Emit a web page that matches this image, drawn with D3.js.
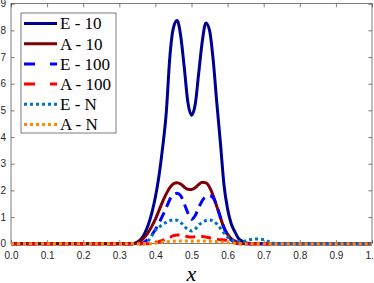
<!DOCTYPE html>
<html>
<head>
<meta charset="utf-8">
<script src="https://cdn.jsdelivr.net/npm/d3@7"></script>
<style>
  body { margin: 0; background: #fff; }
  svg { display: block; }
</style>
</head>
<body>
<svg id="chart" width="374" height="283"></svg>
<script>
// x positions shared by every series
const xs = [0, 0.30, 0.33, 0.34, 0.35, 0.36, 0.37, 0.38, 0.39, 0.40, 0.41, 0.42, 0.43, 0.44, 0.45,
  0.46, 0.47, 0.48, 0.49, 0.50, 0.51, 0.52, 0.53, 0.54, 0.55, 0.56, 0.57, 0.58, 0.59, 0.60,
  0.61, 0.62, 0.63, 0.64, 0.65, 0.66, 0.67, 0.68, 0.69, 0.70, 0.71, 0.72, 0.73, 0.74, 0.75, 1.0];

const e10 = [0, 0, 0, 0.01, 0.06, 0.17, 0.38, 0.7, 1.15, 1.75, 2.55, 3.6, 4.9, 7.0, 8.1,
  8.37, 7.8, 6.6, 5.3, 4.82, 5.2, 6.4, 7.6, 8.28, 8.0, 6.9, 5.3, 3.8, 2.2, 1.3,
  0.75, 0.45, 0.2, 0.1, 0.04, 0.01, 0, 0, 0, 0, 0, 0, 0, 0, 0, 0];
const a10 = [0, 0, 0, 0, 0.04, 0.12, 0.24, 0.42, 0.65, 0.92, 1.25, 1.58, 1.87, 2.1, 2.25,
  2.29, 2.24, 2.12, 2.04, 2.03, 2.1, 2.22, 2.3, 2.28, 2.12, 1.8, 1.4, 0.98, 0.6, 0.35,
  0.19, 0.1, 0.04, 0.01, 0, 0, 0, 0, 0, 0, 0, 0, 0, 0, 0, 0];
const e100 = [0, 0, 0, 0, 0, 0, 0.06, 0.18, 0.33, 0.53, 0.78, 1.05, 1.35, 1.66, 1.84,
  1.89, 1.8, 1.5, 1.15, 0.92, 1.05, 1.35, 1.62, 1.76, 1.8, 1.72, 1.42, 1.0, 0.6, 0.32,
  0.14, 0.05, 0, 0, 0, 0, 0, 0, 0, 0, 0, 0, 0, 0, 0, 0];
const a100 = [0, 0, 0, 0, 0, 0, 0, 0, 0.02, 0.04, 0.08, 0.12, 0.18, 0.24, 0.3,
  0.33, 0.33, 0.3, 0.26, 0.25, 0.26, 0.27, 0.27, 0.25, 0.22, 0.19, 0.17, 0.15, 0.14, 0.12,
  0.08, 0.04, 0.01, 0, 0, 0, 0, 0, 0, 0, 0, 0, 0, 0, 0, 0];
const eN = [0, 0, 0, 0, 0, 0, 0, 0.1, 0.3, 0.5, 0.62, 0.72, 0.8, 0.86, 0.89,
  0.88, 0.8, 0.66, 0.53, 0.48, 0.55, 0.7, 0.8, 0.87, 0.89, 0.85, 0.74, 0.58, 0.4, 0.25,
  0.15, 0.1, 0.08, 0.08, 0.1, 0.14, 0.17, 0.18, 0.17, 0.15, 0.1, 0.05, 0.01, 0, 0, 0];
const aN = [0, 0, 0, 0, 0, 0, 0, 0, 0, 0.02, 0.04, 0.06, 0.07, 0.08, 0.09,
  0.1, 0.1, 0.1, 0.1, 0.1, 0.1, 0.1, 0.1, 0.1, 0.09, 0.09, 0.08, 0.07, 0.05, 0.04,
  0.02, 0.01, 0, 0, 0, 0, 0, 0, 0, 0, 0, 0, 0, 0, 0, 0];

const seriesNames = ["E - 10", "A - 10", "E - 100", "A - 100", "E - N", "A - N"];
const xTicks = [0, 0.1, 0.2, 0.3, 0.4, 0.5, 0.6, 0.7, 0.8, 0.9, 1];
const yTicks = [0, 1, 2, 3, 4, 5, 6, 7, 8, 9];

const series = [
  {name: seriesNames[0], values: e10, color: "#000090", width: 3, dash: null, legDash: null},
  {name: seriesNames[1], values: a10, color: "#800000", width: 3, dash: null, legDash: null},
  {name: seriesNames[2], values: e100, color: "#0000ff", width: 3, dash: "10,6", legDash: "11,15"},
  {name: seriesNames[3], values: a100, color: "#ff0000", width: 3, dash: "10,6", legDash: "11,15"},
  {name: seriesNames[4], values: eN, color: "#0072bd", width: 3, dash: "3,3", legDash: "3,3"},
  {name: seriesNames[5], values: aN, color: "#ff8c00", width: 3, dash: "3,3", legDash: "3,3"}
];

const plotLeft = 11, plotRight = 372, plotTop = 3.7, plotBottom = 243.7;
const axisColor = "#262626";

const svg = d3.select("#chart");
const x = d3.scaleLinear().domain([0, 1]).range([plotLeft, plotRight]);
const y = d3.scaleLinear().domain([0, 9]).range([plotBottom, plotTop]);

function styleAxis(g) {
  g.select(".domain").remove();
  g.selectAll(".tick line").attr("stroke", axisColor).attr("stroke-width", 0.6);
  g.selectAll(".tick text")
    .attr("fill", axisColor)
    .attr("font-family", "Liberation Sans, Arial, sans-serif")
    .attr("font-size", "10px");
}

// bottom and top axes (ticks pointing in)
svg.append("g")
  .attr("transform", "translate(0," + plotBottom + ")")
  .call(d3.axisBottom(x).tickValues(xTicks).tickSizeInner(-3.6).tickSizeOuter(0).tickPadding(8))
  .call(styleAxis);
svg.append("g")
  .attr("transform", "translate(0," + plotTop + ")")
  .call(d3.axisTop(x).tickValues(xTicks).tickSizeInner(-3.6).tickSizeOuter(0).tickFormat(""))
  .call(styleAxis);
svg.append("g")
  .attr("transform", "translate(" + plotLeft + ",0)")
  .call(d3.axisLeft(y).tickValues(yTicks).tickSizeInner(-3.6).tickSizeOuter(0).tickPadding(5))
  .call(styleAxis);
svg.append("g")
  .attr("transform", "translate(" + plotRight + ",0)")
  .call(d3.axisRight(y).tickValues(yTicks).tickSizeInner(-3.6).tickSizeOuter(0).tickFormat(""))
  .call(styleAxis);

// box
svg.append("rect")
  .attr("x", plotLeft)
  .attr("y", plotTop)
  .attr("width", plotRight - plotLeft)
  .attr("height", plotBottom - plotTop)
  .attr("fill", "none")
  .attr("stroke", axisColor)
  .attr("stroke-width", 0.6);

const line = d3.line()
  .x((d, i) => x(xs[i]))
  .y(d => y(d))
  .curve(d3.curveMonotoneX);

series.forEach(s => {
  svg.append("path")
    .attr("d", line(s.values))
    .attr("fill", "none")
    .attr("stroke", s.color)
    .attr("stroke-width", s.width)
    .attr("stroke-dasharray", s.dash)
    .attr("stroke-linejoin", "round");
});

// legend
const leg = svg.append("g");
leg.append("rect")
  .attr("x", 21)
  .attr("y", 13)
  .attr("width", 95)
  .attr("height", 120)
  .attr("fill", "#fff")
  .attr("stroke", axisColor)
  .attr("stroke-width", 0.6);

const rowY = d3.scalePoint().domain(seriesNames).range([23.5, 124.5]);
series.forEach(s => {
  const ry = rowY(s.name);
  leg.append("line")
    .attr("x1", 24)
    .attr("x2", 57)
    .attr("y1", ry)
    .attr("y2", ry)
    .attr("stroke", s.color)
    .attr("stroke-width", s.width)
    .attr("stroke-dasharray", s.legDash);
  leg.append("text")
    .attr("x", 60)
    .attr("y", ry)
    .attr("dy", "0.35em")
    .attr("font-family", "Liberation Serif, Times New Roman, serif")
    .attr("font-size", "17px")
    .attr("fill", "#000")
    .text(s.name);
});

// x label
svg.append("text")
  .attr("x", x(0.5))
  .attr("y", 281)
  .attr("text-anchor", "middle")
  .attr("font-family", "Liberation Serif, Times New Roman, serif")
  .attr("font-style", "italic")
  .attr("font-size", "22px")
  .attr("fill", "#000")
  .text("x");
</script>
</body>
</html>
